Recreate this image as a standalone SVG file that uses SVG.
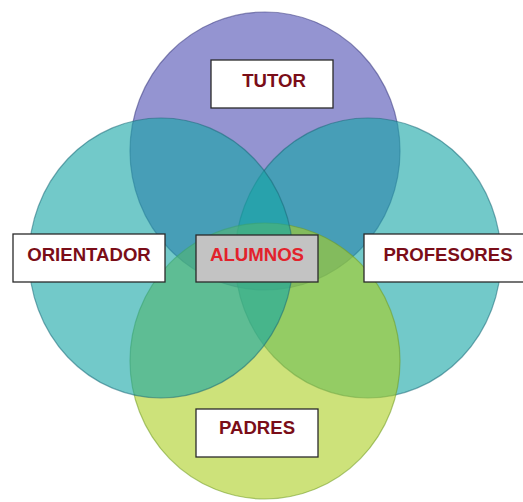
<svg xmlns="http://www.w3.org/2000/svg" width="523" height="502" viewBox="0 0 523 502">
<style>
.c{fill-opacity:0.6;stroke-width:1.2;stroke-opacity:0.55}
.box{fill:#ffffff;stroke:#2a2a2a;stroke-width:1.3}
.t{font-family:"Liberation Sans",Arial,sans-serif;font-weight:bold;font-size:18.6px;fill:#7a0d18;text-anchor:middle}
</style>
<rect width="523" height="502" fill="#ffffff"/>
<g id="circles">
<ellipse id="c-top" class="c" cx="265" cy="151" rx="135" ry="139" fill="#4c4cb2" stroke="#3a3a80"/>
<ellipse id="c-right" class="c" cx="368" cy="258" rx="133" ry="140" fill="#14a5a5" stroke="#1a6a78"/>
<ellipse id="c-bottom" class="c" cx="265" cy="361" rx="135" ry="138" fill="#accf21" stroke="#6f9a20"/>
<ellipse id="c-left" class="c" cx="161" cy="258" rx="132" ry="140" fill="#14a5a5" stroke="#1a6a78"/>
</g>
<g id="connectors"></g>
<g id="tutor">
<rect class="box" x="211" y="60" width="122" height="48"/>
<text class="t" x="274" y="87">TUTOR</text>
</g>
<g id="orientador">
<rect class="box" x="13" y="234" width="152" height="48"/>
<text class="t" x="89" y="261">ORIENTADOR</text>
</g>
<g id="alumnos">
<rect class="box" x="196" y="235" width="122" height="47" style="fill:#c3c3c3"/>
<text class="t" x="257" y="261" style="fill:#e2222c">ALUMNOS</text>
</g>
<g id="profesores">
<rect class="box" x="364" y="234" width="165" height="48"/>
<text class="t" x="448" y="261">PROFESORES</text>
</g>
<g id="padres">
<rect class="box" x="196" y="409" width="122" height="48"/>
<text class="t" x="257" y="434">PADRES</text>
</g>
</svg>
